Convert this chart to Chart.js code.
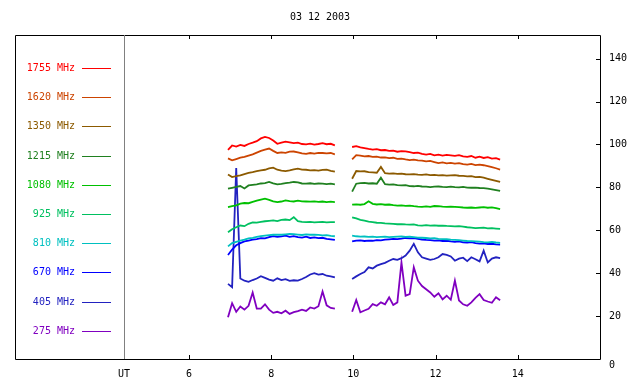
<!DOCTYPE html>
<html>
<head>
<meta charset="utf-8">
<script src="https://cdn.jsdelivr.net/npm/chart.js@4"></script>
<style>
html,body{margin:0;padding:0;background:#fff;}
</style>
</head>
<body>
<canvas id="myChart" width="640" height="384"></canvas>
<script>
// time axis (UT hours), null row at 9.76 makes the data gap
let times = [
  6.95,7.05,7.15,7.25,7.35,7.45,7.55,7.65,7.75,7.85,7.95,8.05,8.15,8.25,8.35,8.45,8.55,8.65,8.75,8.85,8.95,9.05,9.15,9.25,9.35,9.45,9.55,
  9.76,
  9.97,10.07,10.17,10.27,10.37,10.47,10.57,10.67,10.77,10.87,10.97,11.07,11.17,11.27,11.37,11.47,11.57,11.67,11.77,11.87,
  11.97,12.07,12.17,12.27,12.37,12.47,12.57,12.67,12.77,12.87,12.97,13.07,13.17,13.27,13.37,13.47,13.57
];

let f1755 = [97.5,99.5,99,99.8,99.3,100.2,100.8,101.5,102.8,103.5,103,101.8,100.3,100.8,101.3,101,100.6,100.8,100.2,100,100.4,99.9,100.2,100.6,100.1,100.3,99.6,
  null,
  98.8,99.2,98.6,98.3,97.9,97.6,97.8,97.3,97.4,97,97.1,96.6,96.9,96.8,96.4,96,96.2,95.6,95.3,95.6,94.9,95.2,94.8,95.1,94.9,94.7,95,94.4,94.2,94.6,93.8,94.3,93.7,94.1,93.4,93.6,92.9];
let f1620 = [93.5,92.6,93.2,93.8,94.2,94.8,95.4,96.2,97,97.6,98.1,97,96,96.3,96.1,96.6,96.7,96.3,95.8,95.6,96,95.7,96.1,96,95.8,96,95.4,
  null,
  93,95,94.8,94.4,94.6,94.2,94.3,93.9,94,93.6,93.8,93.3,93.4,93,92.7,92.9,92.6,92.5,92.1,92.3,91.8,91.3,91.6,91.2,91.4,91.1,91.3,90.8,90.6,90.9,90.4,90.6,90.3,89.9,89.4,88.9,88.3];
let f1350 = [86,84.8,85.2,85.6,86.2,86.7,87.1,87.6,87.9,88.2,88.8,89.2,88.2,87.8,87.6,87.9,88.4,88.7,88.3,88.2,87.9,88,87.8,88.1,88.2,87.7,87.3,
  null,
  84,87.6,87.4,87.5,87.1,87,86.8,89.5,86.6,86.4,86.5,86.3,86.4,86.1,86,86.2,85.9,85.8,86,85.7,85.8,85.6,85.7,85.5,85.6,85.7,85.4,85.3,85.1,85.2,84.8,84.9,84.5,84,83.5,83,82.5];
let f1215 = [79.4,79.8,80.2,80.6,79.5,80.9,81.2,81.4,81.8,82,82.5,81.9,81.4,81.6,82,82.2,82.5,82.3,81.8,81.7,81.9,81.6,81.8,81.7,81.5,81.7,81.4,
  null,
  78,81.7,82,82.1,81.8,81.9,81.7,84.5,81.5,81.3,81.4,81,80.9,81,80.6,80.5,80.7,80.4,80.3,80.1,80.3,80.4,80.2,80.1,80.3,80.1,80,80.2,79.9,79.8,79.9,79.7,79.6,79.4,79.1,78.7,78.3];
let f1080 = [70.8,71.2,71.6,72.4,72.7,72.6,73.2,73.8,74.3,74.7,74.2,73.5,73.1,73.4,73.9,73.6,73.4,73.8,73.5,73.4,73.3,73.5,73.2,73.4,73.1,73.3,73.1,
  null,
  71.9,72.1,71.9,72.2,73.5,72.3,72,72.2,71.9,72,71.7,71.5,71.6,71.4,71.5,71.2,71,70.9,71.1,70.9,71.3,71.2,71,70.9,71,70.9,70.8,70.6,70.5,70.6,70.4,70.6,70.8,70.5,70.7,70.3,69.9];
let f925 = [59.1,60.5,61.4,62.2,61.9,63,63.7,63.6,63.9,64.2,64.4,64.6,64.3,64.8,65,64.7,66.1,64.2,63.9,63.8,63.9,63.7,63.8,63.9,63.7,63.8,63.8,
  null,
  66,65.5,64.8,64.5,64,63.8,63.5,63.4,63.2,63.1,63,62.8,62.9,62.7,62.6,62.7,62.3,62.2,62.4,62.2,62.3,62.1,62.2,62,61.9,61.8,61.9,61.7,61.4,61.2,61,61.1,61.2,60.9,61,60.8,60.6];
let f810 = [52.5,54,54.6,55.2,55.6,56.2,56.5,56.9,57.3,57.5,57.7,57.9,58,57.9,58.1,58.3,58.2,58,57.8,58.1,57.9,58,57.8,57.6,57.7,57.4,57.2,
  null,
  57.5,57.2,57,57.1,56.9,57,56.8,56.9,57,56.8,56.9,57,57.1,56.9,57,56.8,56.6,56.5,56.4,56.2,56.3,56,55.9,55.8,55.6,55.5,55.4,55.2,55,54.9,54.8,54.7,54.5,54.4,54.6,54.3,54.1];
let f670 = [48.5,51,53,54,54.8,55.2,55.6,55.9,56.3,56.2,56.8,57.3,56.9,57.1,57.5,56.9,57.3,56.8,56.6,57,56.4,56.7,56.3,56.5,56,55.8,55.5,
  null,
  54.8,55.2,55.3,55,55.2,55.1,55.4,55.3,55.6,55.8,56,55.9,56.1,56.4,56.2,56.3,56,55.7,55.5,55.4,55.2,55.3,55,55.1,54.8,54.6,54.8,54.4,54.3,54.5,54,53.8,53.9,53.6,53.7,53.4,53.3];
let f405 = [35,33.5,89,37.5,36.5,36,36.8,37.5,38.6,37.8,37,36.5,37.6,36.8,37.2,36.4,36.7,36.5,37.3,38.2,39.4,40,39.3,39.6,38.8,38.5,38,
  null,
  37.3,38.5,39.6,40.5,42.7,42.2,43.5,44.2,44.8,45.8,46.6,46.2,47,48.2,50.5,53.7,49.7,47.4,46.8,46.2,46.6,47.4,48.9,48.5,47.8,45.8,46.8,47.2,45.6,47.4,46.5,45.5,50.5,45,46.8,47.4,47];
let f275 = [19.5,26,22,24.5,23,24.8,31,23.5,23.5,25.5,23,21.5,22,21.3,22.5,21,21.8,22.3,23,22.4,24,23.5,24.6,31.5,25,23.8,23.5,
  null,
  22,27.5,21.8,22.6,23.4,25.6,24.8,26.4,25.5,28.7,25.2,26.4,45,29.5,30.2,42.7,36.5,34,32.5,31,29,30.6,27.8,29.5,27.6,36.5,27.3,25.5,24.8,26.4,28.5,30.2,27.5,26.8,26.2,28.8,27.4];

let seriesNames = ['1755 MHz','1620 MHz','1350 MHz','1215 MHz','1080 MHz','925 MHz','810 MHz','670 MHz','405 MHz','275 MHz'];
let seriesData = [f1755,f1620,f1350,f1215,f1080,f925,f810,f670,f405,f275];
let seriesColors = ['#ff0000','#cc4400','#8c5a00','#208020','#00c000','#00c060','#00c0c0','#0000ff','#2222c0','#8000c0'];

let xTicks = [4.42,6,8,10,12,14];
let yTicks = [0,20,40,60,80,100,120,140];
let titleText = '03 12 2003';

const monoFont = {family:'DejaVu Sans Mono', size:10};

// title, left legend box, frame and tick marks
const framePlugin = {
  id:'frame',
  afterDraw(chart){
    const ctx = chart.ctx;
    const a = chart.chartArea;
    const xs = chart.scales.x, ys = chart.scales.y;
    ctx.save();
    ctx.font = '10px "DejaVu Sans Mono"';
    ctx.fillStyle = '#000';
    ctx.textAlign = 'center';
    ctx.textBaseline = 'middle';
    ctx.fillText(titleText, 320, 17);

    // legend
    ctx.textAlign = 'right';
    chart.data.datasets.forEach((ds,i) => {
      const y = Math.round(68 + i*29.2) + 0.5;
      ctx.fillStyle = ds.borderColor;
      ctx.fillText(ds.label, 75, y);
      ctx.strokeStyle = ds.borderColor;
      ctx.lineWidth = 1;
      ctx.beginPath();
      ctx.moveTo(82, y); ctx.lineTo(111, y);
      ctx.stroke();
    });

    // frame
    ctx.strokeStyle = '#000';
    ctx.lineWidth = 1;
    ctx.beginPath();
    ctx.moveTo(15.5, a.top + 0.5);
    ctx.lineTo(a.right + 0.5, a.top + 0.5);
    ctx.lineTo(a.right + 0.5, a.bottom + 0.5);
    ctx.lineTo(15.5, a.bottom + 0.5);
    ctx.closePath();
    ctx.stroke();

    ctx.strokeStyle = '#808080';
    ctx.beginPath();
    ctx.moveTo(a.left + 0.5, a.top);
    ctx.lineTo(a.left + 0.5, a.bottom);
    ctx.stroke();

    // tick marks pointing inward
    ctx.strokeStyle = '#000';
    ctx.beginPath();
    xTicks.slice(1).forEach(v => {
      const px = Math.round(xs.getPixelForValue(v)) + 0.5;
      ctx.moveTo(px, a.bottom); ctx.lineTo(px, a.bottom - 4);
      ctx.moveTo(px, a.top); ctx.lineTo(px, a.top + 4);
    });
    yTicks.slice(1).forEach(v => {
      const py = Math.round(ys.getPixelForValue(v)) + 0.5;
      ctx.moveTo(a.right, py); ctx.lineTo(a.right - 4, py);
    });
    ctx.stroke();
    ctx.restore();
  }
};

let myChart = document.getElementById('myChart').getContext('2d');

let radioChart = new Chart(myChart, {
  type:'line',
  data:{
    datasets: seriesNames.map((name,i) => ({
      label: name,
      data: seriesData[i].map((v,j) => ({x: times[j], y: v})),
      borderColor: seriesColors[i],
      backgroundColor: seriesColors[i],
      borderWidth: 1.8,
      pointRadius: 0,
      tension: 0,
      spanGaps: false
    }))
  },
  options:{
    responsive:false,
    animation:false,
    layout:{padding:{left:124, top:35, right:0, bottom:0}},
    plugins:{legend:{display:false}, title:{display:false}, tooltip:{enabled:false}},
    scales:{
      x:{
        type:'linear', position:'bottom', min:4.42, max:16,
        afterBuildTicks: s => { s.ticks = xTicks.map(v => ({value:v})); },
        afterFit: s => { s.height = 25; },
        grid:{display:false, drawTicks:false},
        border:{display:false},
        ticks:{font:monoFont, color:'#000', padding:9, maxRotation:0, autoSkip:false,
          callback: v => v === 4.42 ? 'UT' : v}
      },
      y:{
        type:'linear', position:'right', min:0, max:151,
        afterBuildTicks: s => { s.ticks = yTicks.map(v => ({value:v})); },
        afterFit: s => { s.width = 40; },
        grid:{display:false, drawTicks:false},
        border:{display:false},
        ticks:{font:monoFont, color:'#000', padding:9,
          callback: v => v === 0 ? ['', '0'] : v}
      }
    }
  },
  plugins:[framePlugin]
});
</script>
</body>
</html>
